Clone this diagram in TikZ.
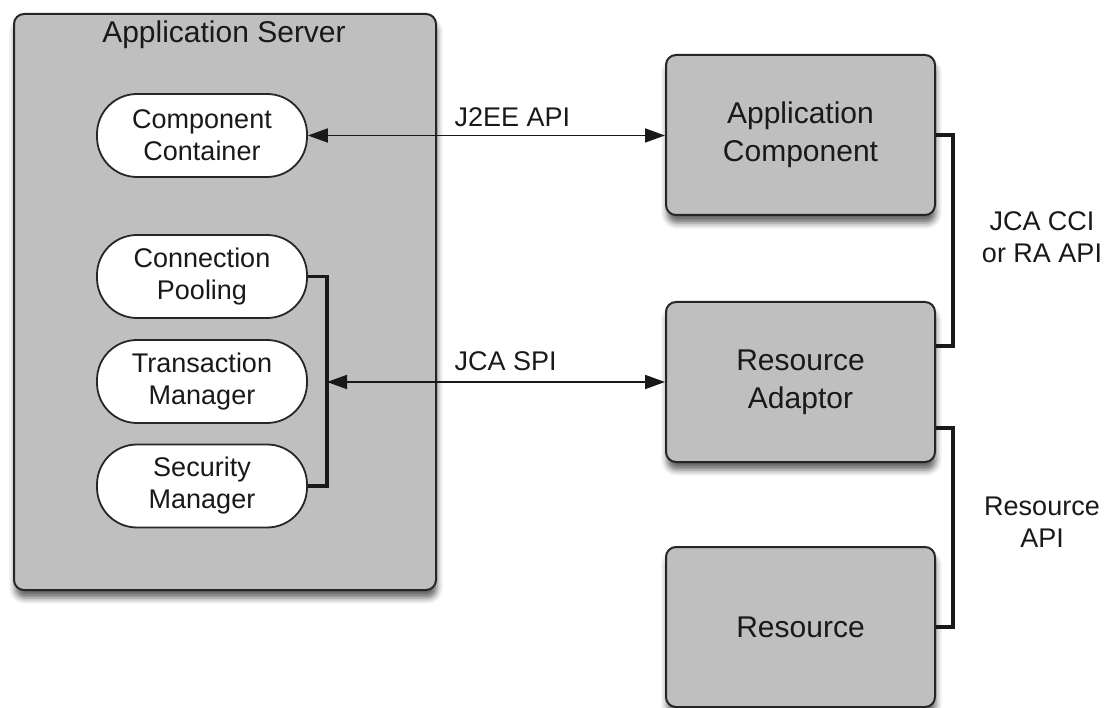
\documentclass[tikz,border=0pt]{standalone}
\usepackage{fontspec}
\setmainfont{Liberation Sans}
\usetikzlibrary{shapes,arrows.meta,positioning,shadows.blur}

\begin{document}
\begin{tikzpicture}[x=1pt,y=-1pt,
	box/.style={draw=black!85,line width=2pt,fill=black!25,rounded corners=10pt,blur shadow={shadow xshift=1pt,shadow yshift=-8pt,shadow blur radius=6pt,shadow opacity=60}},
	pill/.style={draw=black!85,line width=1.8pt,fill=white,rounded corners=40pt,minimum width=210pt,minimum height=83pt,align=center,text=black!90,font=\fontsize{27}{32}\selectfont},
	comp/.style={box,minimum width=269pt,minimum height=160pt,align=center,text=black!90,font=\fontsize{30}{38}\selectfont},
	lbl/.style={align=center,text=black!90,font=\fontsize{27}{32}\selectfont},
	api/.style={{Triangle[length=20pt,width=14pt]}-{Triangle[length=20pt,width=14pt]},line width=1.8pt,black!90},
	bracket/.style={line width=3.5pt,black!90}]
	\useasboundingbox (0,0) rectangle (1106,708);

	\node[box,minimum width=422pt,minimum height=576pt] (server) at (225,302) {};
	\node[lbl,font=\fontsize{30}{34}\selectfont] (title) at (224,35) {Application Server};

	\node[pill] (cont) at (202,135.5) {Component\\Container};
	\foreach \nm/\yy/\txt in {pool/276.5/{Connection\\Pooling},trans/381.5/{Transaction\\Manager},sec/486/{Security\\Manager}} \node[pill] (\nm) at (202,\yy) {\txt};

	\node[comp] (appcomp) at (800.5,135) {Application\\Component};
	\node[comp] (ra) at (800.5,382) {Resource\\Adaptor};
	\node[comp] (res) at (800.5,627) {Resource};

	\draw[api] (cont.east) -- (cont.east -| appcomp.west);
	\coordinate (spi) at (327,382);
	\draw[bracket] (pool.east) -| (spi) |- (sec.east);
	\draw[api] (spi) -- (ra.west);

	\coordinate (cci) at (953,346);
	\draw[bracket] (appcomp.east) -| (cci) -- (cci -| ra.east);
	\coordinate (rapi) at (953,428);
	\draw[bracket] (rapi -| ra.east) -- (rapi) |- (res.east);

	\node[lbl,anchor=west] (j2ee) at (451,117) {J2EE API};
	\node[lbl,anchor=west] (jcaspi) at (451,361) {JCA SPI};
	\node[lbl] (ccilbl) at (1042,237) {JCA CCI\\or RA API};
	\node[lbl] (reslbl) at (1042,522) {Resource\\API};
\end{tikzpicture}
\end{document}
